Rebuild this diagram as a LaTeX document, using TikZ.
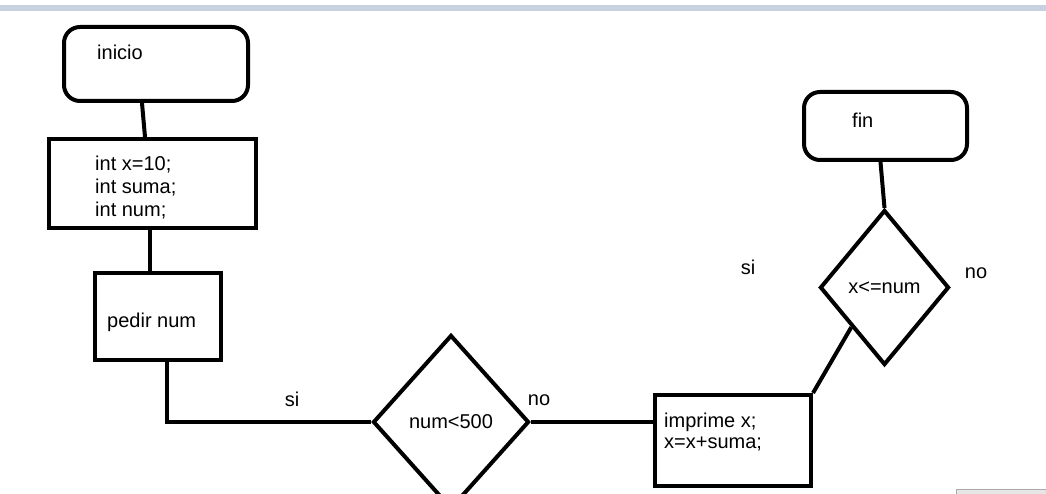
\documentclass[tikz,border=0pt]{standalone}
\usepackage{fontspec}
\setmainfont{Liberation Sans}
\usetikzlibrary{shapes.geometric,positioning}

\definecolor{bandblue}{RGB}{200,209,224}
\definecolor{barfill}{RGB}{230,230,230}
\definecolor{barline}{RGB}{170,170,170}

\begin{document}
\begin{tikzpicture}[x=1pt,y=-1pt,
	font=\fontsize{20}{23}\selectfont,
	every node/.style={inner sep=0pt},
	term/.style={draw,line width=4pt,rounded corners=16pt},
	proc/.style={draw,line width=4pt},
	cond/.style={draw,line width=4pt,diamond},
	txt/.style={anchor=west,align=left},
	conn/.style={line width=4pt}]
	\useasboundingbox (0,0) rectangle (1046,494);
	\clip (0,0) rectangle (1046,494);
	\fill[white] (0,0) rectangle (1046,494);
	\fill[bandblue] (0,5) rectangle (1046,11);
	\filldraw[fill=barfill,draw=barline,line width=1pt] (956,489) rectangle (1050,500);

	% shapes
	\node[term,minimum width=184pt,minimum height=74pt] (inicio) at (156,64) {};
	\node[proc,minimum width=207pt,minimum height=89pt] (decl) at (152.5,183.5) {};
	\node[proc,minimum width=126pt,minimum height=87pt] (pedir) at (158,316.5) {};
	\node[cond,minimum width=156pt,minimum height=174pt] (cond1) at (451,422) {num<500};
	\node[proc,minimum width=156pt,minimum height=91pt] (imprime) at (733,440.5) {};
	\node[cond,minimum width=129pt,minimum height=155pt] (cond2) at (884.5,287.5) {x<=num};
	\node[term,minimum width=163pt,minimum height=68pt] (fin) at (885.5,126) {};

	% texts
	\node[txt] (tinicio) at (97,52) {inicio};
	\node[txt] (tdecl) at (95,188) {int x=10;\\int suma;\\int num;};
	\node[txt] (tpedir) at (107,322) {pedir num};
	\node[txt,font=\fontsize{20}{21}\selectfont] (timprime) at (664,432) {imprime x;\\x=x+suma;};
	\node[txt] (tfin) at (852,120) {fin};

	% connectors
	\draw[conn] ([xshift=-14pt]inicio.south) -- ([xshift=-7.5pt]decl.north);
	\draw[conn] ([xshift=-2.5pt]decl.south) -- ([xshift=-8pt]pedir.north);
	\draw[conn] ([xshift=9pt]pedir.south) |- (cond1.west);
	\draw[conn] (cond1.east) -- (cond1.east -| imprime.west);
	\draw[conn] (imprime.north east) -- (cond2.south west);
	\draw[conn] ([xshift=-5pt]fin.south) -- (cond2.north);

	\foreach \t/\x/\y [count=\n] in {si/292/399,no/539/400,si/748/267,no/976/273}
		\node (L\n) at (\x,\y) {\t};
\end{tikzpicture}
\end{document}
